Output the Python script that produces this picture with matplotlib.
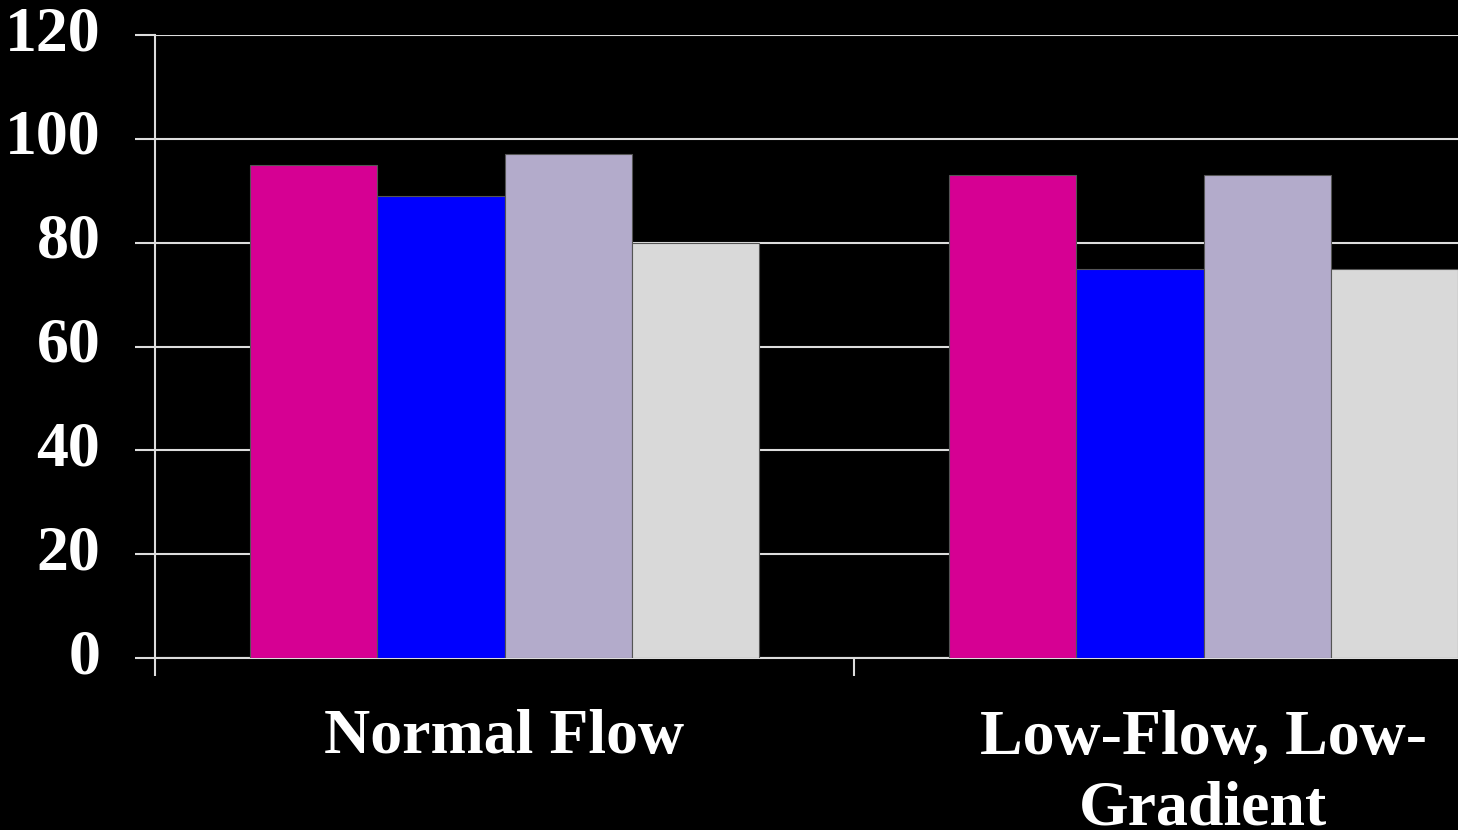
import matplotlib
matplotlib.use("Agg")
import matplotlib.pyplot as plt
import numpy as np

categories = ["Normal Flow", "Low-Flow, Low-\nGradient"]
series_values = [
    [95, 93],   # pink series
    [89, 75],   # blue series
    [97, 93],   # lavender series
    [80, 75],   # light gray series
]
series_colors = ["#D60093", "#0000FF", "#B3ABCB", "#D9D9D9"]
y_ticks = [0, 20, 40, 60, 80, 100, 120]

plt.rcParams["font.family"] = ["Liberation Serif", "DejaVu Serif"]
plt.rcParams["font.weight"] = "bold"

fig = plt.figure(figsize=(14.58, 8.30), dpi=100, facecolor="black")
ax = fig.add_axes([155 / 1458, 172 / 830, 1398 / 1458, 623 / 830])
ax.set_facecolor("black")

x = np.arange(len(categories))
n = len(series_values)
bar_w = 0.1817
for i, (vals, col) in enumerate(zip(series_values, series_colors)):
    offs = (i - (n - 1) / 2) * bar_w
    ax.bar(x + offs, vals, width=bar_w, color=col, edgecolor="#555555",
           linewidth=0.8, zorder=3)

ax.set_xlim(-0.5, len(categories) - 0.5)
ax.set_ylim(0, 120)
ax.set_yticks(y_ticks)
ax.set_yticklabels([str(t) for t in y_ticks], va="center")

ax.set_xticks(x)
ax.set_xticklabels(categories, linespacing=1.3)
ax.set_xticks(np.arange(-0.5, len(categories) + 0.5, 1.0), minor=True)

ax.grid(axis="y", color="#DDDDDD", linewidth=1.5, zorder=0)
ax.set_axisbelow(True)

for s in ["top", "right"]:
    ax.spines[s].set_visible(False)
for s in ["left", "bottom"]:
    ax.spines[s].set_color("#DDDDDD")
    ax.spines[s].set_linewidth(1.5)

ax.tick_params(axis="y", colors="#DDDDDD", length=14.4, width=1.5, pad=25,
               labelsize=46, labelcolor="white")
ax.tick_params(axis="x", which="major", length=0, pad=37, labelsize=46,
               labelcolor="white")
ax.tick_params(axis="x", which="minor", length=13, width=1.5, colors="#DDDDDD")

for lab in ax.get_xticklabels() + ax.get_yticklabels():
    lab.set_fontweight("bold")

fig.savefig("out.png", dpi=100, facecolor="black")
